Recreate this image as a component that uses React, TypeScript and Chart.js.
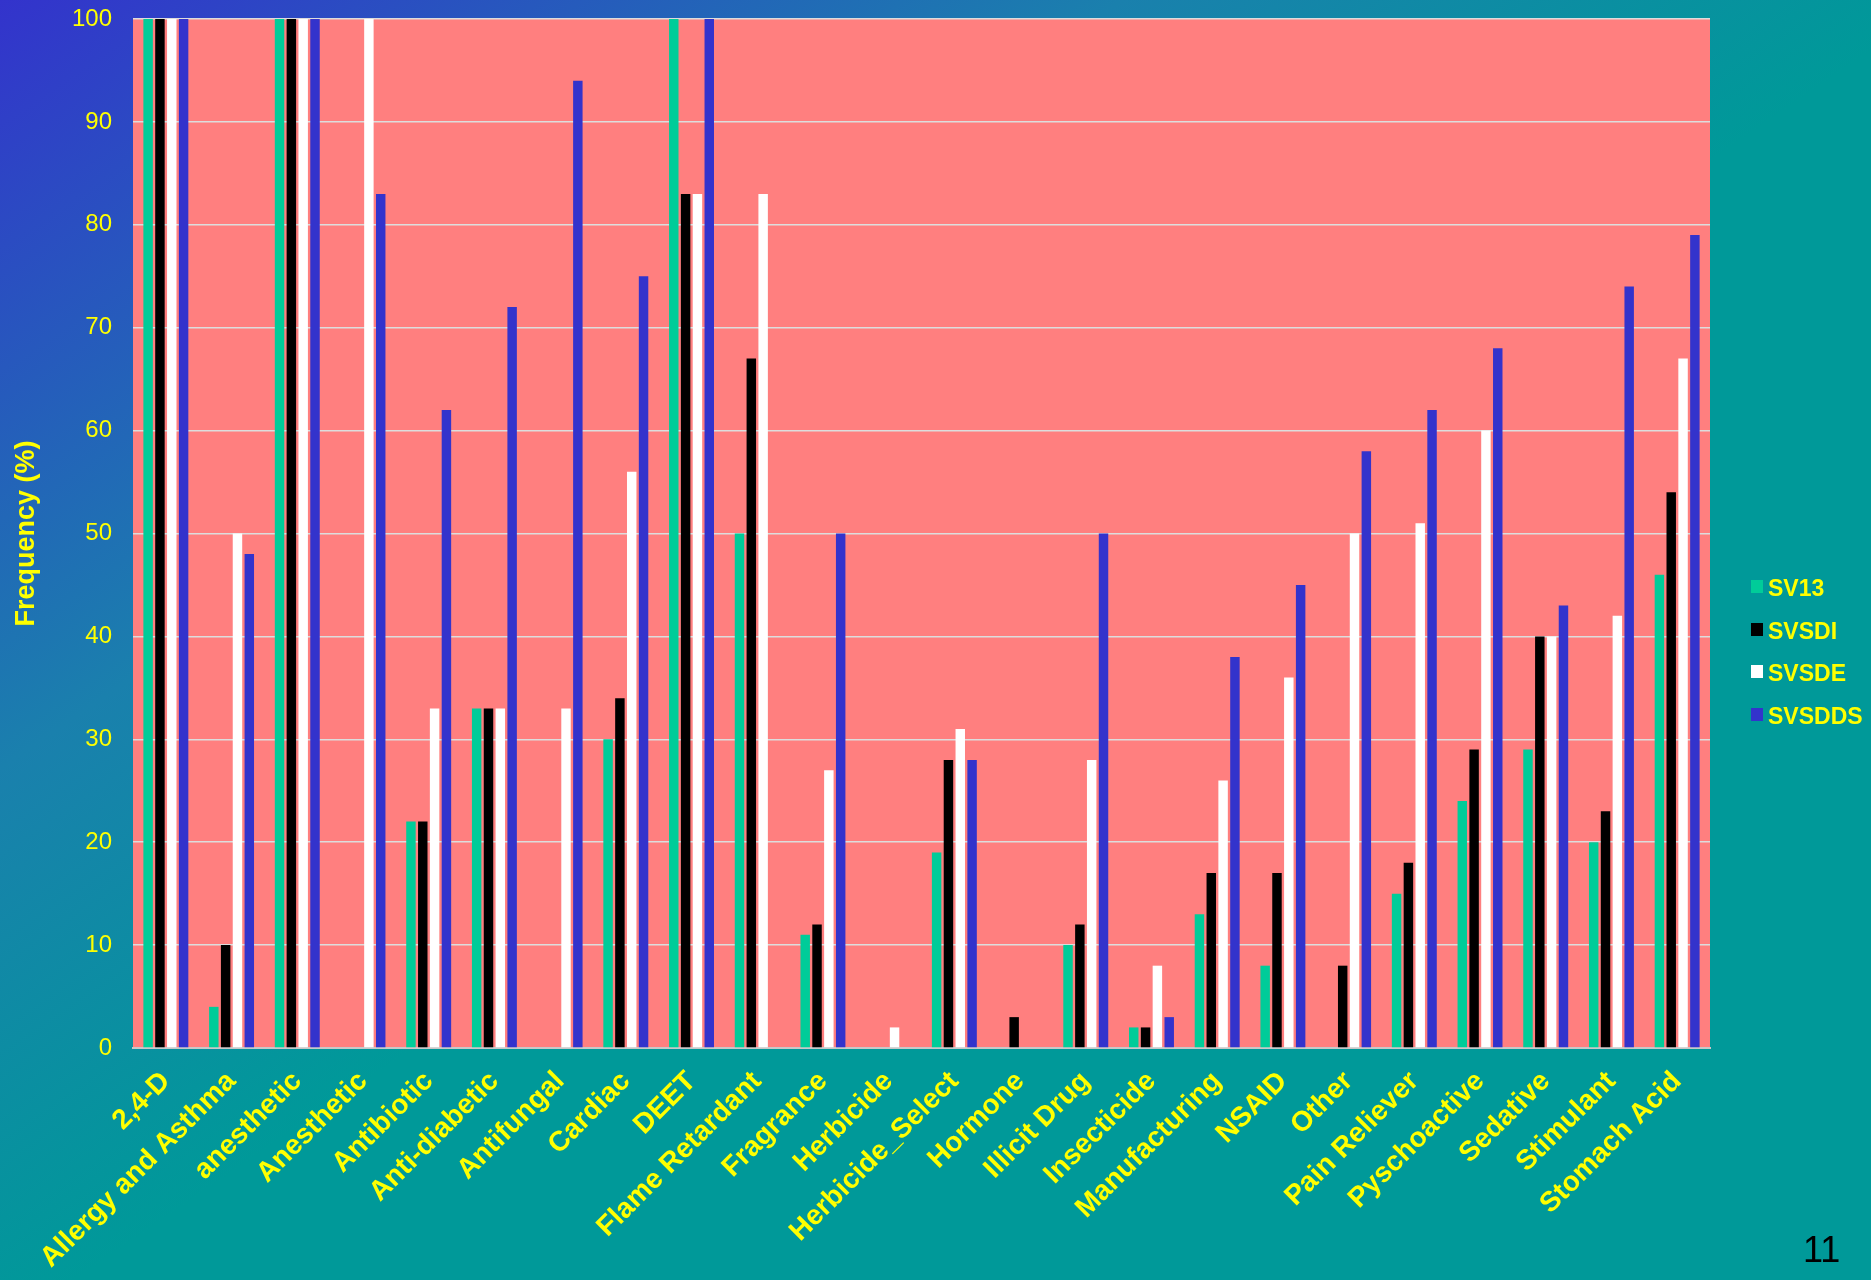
import React, { useEffect, useRef } from "react";
import { Chart, registerables } from "chart.js";

Chart.register(...registerables);

const categories = [
  "2,4-D",
  "Allergy and Asthma",
  "anesthetic",
  "Anesthetic",
  "Antibiotic",
  "Anti-diabetic",
  "Antifungal",
  "Cardiac",
  "DEET",
  "Flame Retardant",
  "Fragrance",
  "Herbicide",
  "Herbicide_Select",
  "Hormone",
  "Illicit Drug",
  "Insecticide",
  "Manufacturing",
  "NSAID",
  "Other",
  "Pain Reliever",
  "Pyschoactive",
  "Sedative",
  "Stimulant",
  "Stomach Acid",
];

const sv13 = [100, 4, 100, 0, 22, 33, 0, 30, 100, 50, 11, 0, 19, 0, 10, 2, 13, 8, 0, 15, 24, 29, 20, 46];
const svsdi = [100, 10, 100, 0, 22, 33, 0, 34, 83, 67, 12, 0, 28, 3, 12, 2, 17, 17, 8, 18, 29, 40, 23, 54];
const svsde = [100, 50, 100, 100, 33, 33, 33, 56, 83, 83, 27, 2, 31, 0, 28, 8, 26, 36, 50, 51, 60, 40, 42, 67];
const svsdds = [100, 48, 100, 83, 62, 72, 94, 75, 100, 0, 50, 0, 28, 0, 50, 3, 38, 45, 58, 62, 68, 43, 74, 79];

const seriesNames = ["SV13", "SVSDI", "SVSDE", "SVSDDS"];
const seriesValues = [sv13, svsdi, svsde, svsdds];
const seriesColors = ["#00CC99", "#000000", "#FFFFFF", "#3333CC"];

const yMin = 0;
const yMax = 100;
const yStep = 10;
const yTitle = "Frequency (%)";
const pageNumber = "11";

const FONT = "'Liberation Sans', Arial, sans-serif";
const YELLOW = "#FFFF00";

const plotBackground = {
  id: "plotBackground",
  beforeDraw(chart: any) {
    const { ctx, chartArea } = chart;
    if (!chartArea) return;
    ctx.save();
    ctx.fillStyle = "#FF7F7F";
    ctx.fillRect(chartArea.left, chartArea.top, chartArea.right - chartArea.left, chartArea.bottom - chartArea.top);
    ctx.restore();
  },
};

export default function App() {
  const canvasRef = useRef<HTMLCanvasElement | null>(null);

  useEffect(() => {
    if (!canvasRef.current) return;
    const chart = new Chart(canvasRef.current, {
      type: "bar",
      data: {
        labels: categories,
        datasets: seriesNames.map((name, i) => ({
          label: name,
          data: seriesValues[i],
          backgroundColor: seriesColors[i],
          borderWidth: 0,
          barPercentage: 0.8,
          categoryPercentage: 0.72,
        })),
      },
      options: {
        responsive: false,
        devicePixelRatio: 1,
        animation: false,
        layout: { padding: { top: 19, right: 161, left: 0, bottom: 0 } },
        plugins: {
          legend: { display: false },
          tooltip: { enabled: false },
          title: { display: false },
        },
        scales: {
          x: {
            grid: { display: false, drawTicks: false },
            border: { display: true, color: "#C8C8C8", width: 2 },
            ticks: {
              autoSkip: false,
              minRotation: 45,
              maxRotation: 45,
              color: YELLOW,
              padding: 17,
              font: { family: FONT, size: 28, weight: "bold" },
            },
            afterFit(scale: any) {
              scale.height = 232;
              scale.paddingLeft = 0;
              scale.paddingRight = 0;
            },
          },
          y: {
            min: yMin,
            max: yMax,
            grid: { color: "#DDDDDD", lineWidth: 1.5, drawTicks: false },
            border: { display: false },
            ticks: {
              stepSize: yStep,
              color: YELLOW,
              padding: 21,
              font: { family: FONT, size: 24 },
            },
            title: {
              display: true,
              text: yTitle,
              color: YELLOW,
              font: { family: FONT, size: 27, weight: "bold" },
              padding: { top: 10, bottom: 0 },
            },
            afterFit(scale: any) {
              scale.width = 133;
              scale.paddingTop = 0;
              scale.paddingBottom = 0;
            },
          },
        },
      },
      plugins: [plotBackground],
    } as any);
    return () => chart.destroy();
  }, []);

  return (
    <div
      style={{
        position: "fixed",
        left: 0,
        top: 0,
        width: 1871,
        height: 1280,
        overflow: "hidden",
        background: "linear-gradient(to bottom right, #3333CC 0%, #1a80ad 30%, #009999 52%, #009999 100%)",
        fontFamily: FONT,
      }}
    >
      <canvas ref={canvasRef} width={1871} height={1280} style={{ display: "block", width: 1871, height: 1280 }} />
      {seriesNames.map((name, i) => (
        <div
          key={name}
          style={{
            position: "absolute",
            left: 1751,
            top: 577 + i * 42.7,
            height: 23,
            display: "flex",
            alignItems: "flex-start",
            whiteSpace: "nowrap",
          }}
        >
          <div style={{ width: 12, height: 13, marginTop: 3, background: seriesColors[i] }} />
          <span
            style={{
              marginLeft: 5,
              color: YELLOW,
              fontWeight: "bold",
              fontSize: 23,
              lineHeight: "22px",
            }}
          >
            {name}
          </span>
        </div>
      ))}
      <div
        style={{
          position: "absolute",
          left: 1803,
          top: 1232,
          fontSize: 36,
          lineHeight: "36px",
          color: "#000000",
        }}
      >
        {pageNumber}
      </div>
    </div>
  );
}
